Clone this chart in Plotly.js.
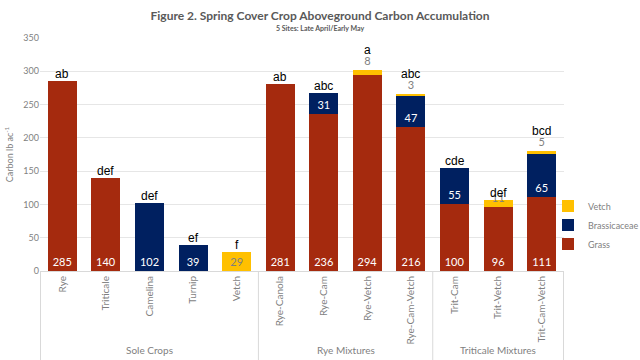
<!DOCTYPE html>
<html>
<head>
<meta charset="utf-8">
<script src="https://cdn.plot.ly/plotly-3.0.1.min.js"></script>
<style>html,body{margin:0;padding:0;background:#fff;}#chart{width:640px;height:360px;}</style>
</head>
<body>
<div id="chart"></div>
<script>
const categories = ["Rye","Triticale","Camelina","Turnip","Vetch","Rye-Canola","Rye-Cam","Rye-Vetch","Rye-Cam-Vetch","Trit-Cam","Trit-Vetch","Trit-Cam-Vetch"];
const grass        = [285, 140, null, null, null, 281, 236, 294, 216, 100, 96, 111];
const brassicaceae = [null, null, 102, 39, null, null, 31, null, 47, 55, null, 65];
const vetch        = [null, null, null, null, 29, null, null, 8, 3, null, 11, 5];
const letters      = ["ab","def","def","ef","f","ab","abc","a","abc","cde","def","bcd"];
const vetchTextPos = ["inside","inside","inside","inside","inside","inside","inside","outside","outside","inside","inside","outside"];
const groups = [
  {name: "Sole Crops", first: 0, last: 4},
  {name: "Rye Mixtures", first: 5, last: 8},
  {name: "Triticale Mixtures", first: 9, last: 11}
];

const FONT = "Lato, 'DejaVu Sans', sans-serif";
const GRAY = "#7f7f7f";

const traces = [
  {type: "bar", name: "Grass", x: categories, y: grass,
   marker: {color: "#A52A0E"},
   texttemplate: "%{y}", textposition: "inside", insidetextanchor: "start",
   constraintext: "none", textangle: 0,
   textfont: {color: "#ffffff", size: 11, family: FONT}, hoverinfo: "none"},
  {type: "bar", name: "Brassicaceae", x: categories, y: brassicaceae,
   marker: {color: "#002060"},
   texttemplate: "%{y}", textposition: "inside", insidetextanchor: "start",
   constraintext: "none", textangle: 0,
   textfont: {color: "#ffffff", size: 11, family: FONT}, hoverinfo: "none"},
  {type: "bar", name: "Vetch", x: categories, y: vetch,
   marker: {color: "#FFC000"},
   texttemplate: "%{y}", textposition: vetchTextPos, insidetextanchor: "start",
   constraintext: "none", textangle: 0, cliponaxis: false,
   textfont: {color: GRAY, size: 11, family: FONT},
   outsidetextfont: {color: GRAY, size: 11, family: FONT}, hoverinfo: "none"}
];

const annotations = [];
categories.forEach((c, i) => {
  const total = (grass[i] || 0) + (brassicaceae[i] || 0) + (vetch[i] || 0);
  const hasOutside = vetch[i] !== null && vetchTextPos[i] === "outside";
  annotations.push({
    x: c, y: total, xref: "x", yref: "y", text: letters[i], showarrow: false,
    yanchor: "bottom", yshift: hasOutside ? 11 : -2,
    font: {family: "'Liberation Sans', Arial, sans-serif", size: 12, color: "#000000"}
  });
});
annotations.push({
  x: (320 - 40) / 524, y: 1 + 10 / 233, xref: "paper", yref: "paper", text: "<b>5 Sites: Late April/Early May</b>",
  showarrow: false, xanchor: "center", yanchor: "middle",
  font: {family: FONT, size: 7, color: "#595959"}
});
const shapes = [];
groups.forEach((g, k) => {
  const mid = (g.first + g.last) / 2;
  annotations.push({
    x: mid, y: -0.339, xref: "x", yref: "paper", text: g.name, showarrow: false,
    yanchor: "middle", font: {family: FONT, size: 10, color: GRAY}
  });
  shapes.push({type: "line", xref: "x", yref: "paper", x0: g.first - 0.5, x1: g.first - 0.5,
    y0: 0, y1: -0.385, line: {color: "#d9d9d9", width: 1}});
  if (k === groups.length - 1) {
    shapes.push({type: "line", xref: "x", yref: "paper", x0: g.last + 0.5, x1: g.last + 0.5,
      y0: 0, y1: -0.385, line: {color: "#d9d9d9", width: 1}});
  }
});

const layout = {
  width: 640, height: 360,
  margin: {l: 40, r: 76, t: 38, b: 89, autoexpand: false},
  paper_bgcolor: "#ffffff", plot_bgcolor: "#ffffff",
  barmode: "stack", bargap: 0.335,
  showlegend: true,
  font: {family: FONT, color: GRAY},
  title: {
    text: "<b>Figure 2. Spring Cover Crop Aboveground Carbon Accumulation</b>",
    x: 0.5, xanchor: "center", xref: "container", y: 1 - 16 / 360, yanchor: "middle", yref: "container",
    font: {family: FONT, size: 12, color: "#595959"}
  },
  xaxis: {
    type: "category", tickangle: -90, showgrid: false, ticks: "",
    showline: true, linecolor: "#d9d9d9", linewidth: 1, automargin: false,
    tickfont: {family: FONT, size: 10, color: GRAY}, fixedrange: true
  },
  yaxis: {
    range: [0, 350], dtick: 50, showgrid: true, gridcolor: "#e6e6e6", gridwidth: 1,
    zeroline: false, showline: false, ticks: "", automargin: false,
    tickfont: {family: FONT, size: 9, color: GRAY},
    title: {text: "Carbon lb ac<sup>-1</sup>", font: {family: FONT, size: 9, color: GRAY}, standoff: 8},
    fixedrange: true
  },
  legend: {
    xref: "container", yref: "container",
    x: 548 / 640, xanchor: "left", y: 1 - 225 / 360, yanchor: "middle",
    bgcolor: "rgba(0,0,0,0)",
    font: {family: FONT, size: 9, color: GRAY},
    traceorder: "reversed", itemwidth: 30, tracegroupgap: 0
  },
  annotations: annotations,
  shapes: shapes
};

Plotly.newPlot("chart", traces, layout, {staticPlot: true, displayModeBar: false});
</script>
</body>
</html>
